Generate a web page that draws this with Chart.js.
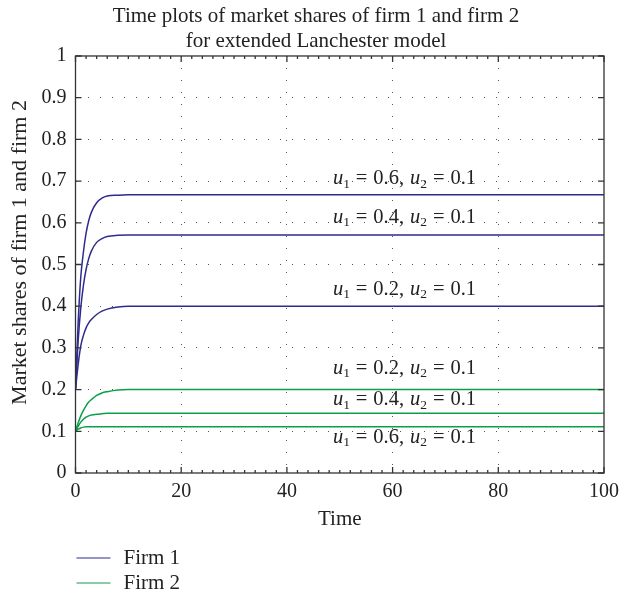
<!DOCTYPE html>
<html>
<head>
<meta charset="utf-8">
<script src="https://cdn.jsdelivr.net/npm/chart.js@4"></script>
<style>
  html, body { margin: 0; padding: 0; background: #fff; overflow: hidden; }
  #wrap { width: 632px; height: 598px; }
</style>
</head>
<body>
<div id="wrap"><canvas id="myChart"></canvas></div>
<script>
// time axis samples
const timePoints = [0, 0.5, 1, 1.5, 2, 2.5, 3, 4, 5, 6, 8, 10, 20, 40, 60, 80, 100];

// firm 1 market share for u1 = 0.6, 0.4, 0.2 (u2 = 0.1)
const firm1U06 = [0.2, 0.36, 0.47, 0.53, 0.575, 0.605, 0.625, 0.648, 0.659, 0.664, 0.666, 0.667, 0.667, 0.667, 0.667, 0.667, 0.667];
const firm1U04 = [0.2, 0.316, 0.396, 0.45, 0.488, 0.514, 0.532, 0.553, 0.562, 0.567, 0.57, 0.571, 0.571, 0.571, 0.571, 0.571, 0.571];
const firm1U02 = [0.2, 0.26, 0.305, 0.33, 0.348, 0.36, 0.368, 0.38, 0.388, 0.393, 0.398, 0.4, 0.4, 0.4, 0.4, 0.4, 0.4];

// firm 2 market share for u1 = 0.2, 0.4, 0.6 (u2 = 0.1)
const firm2U02 = [0.1, 0.12, 0.137, 0.15, 0.161, 0.17, 0.176, 0.186, 0.192, 0.195, 0.199, 0.2, 0.2, 0.2, 0.2, 0.2, 0.2];
const firm2U04 = [0.1, 0.112, 0.122, 0.129, 0.134, 0.137, 0.139, 0.141, 0.142, 0.143, 0.143, 0.143, 0.143, 0.143, 0.143, 0.143, 0.143];
const firm2U06 = [0.1, 0.105, 0.108, 0.11, 0.111, 0.111, 0.111, 0.111, 0.111, 0.111, 0.111, 0.111, 0.111, 0.111, 0.111, 0.111, 0.111];

// curve annotations
const labelU1 = [0.6, 0.4, 0.2, 0.2, 0.4, 0.6];
const labelU2 = [0.1, 0.1, 0.1, 0.1, 0.1, 0.1];
const labelY = [0.705, 0.612, 0.439, 0.25, 0.175, 0.086];
const labelT = 48.7;

const legendNames = ['Firm 1', 'Firm 2'];
const firmColors = ['#2f2b8e', '#0c9f47'];
const yTitle = 'Market shares of firm 1 and firm 2';

const FONT = '"Liberation Serif", "Times New Roman", serif';

function series(values, firm) {
    return {
        label: legendNames[firm],
        data: timePoints.map((t, i) => ({ x: t, y: values[i] })),
        borderColor: firmColors[firm],
        borderWidth: 1.5,
        pointRadius: 0,
        cubicInterpolationMode: 'monotone',
        fill: false
    };
}

const decorPlugin = {
    id: 'decor',
    afterDatasetsDraw(chart) {
        const { ctx, chartArea: a, scales: { x, y } } = chart;
        ctx.save();
        // frame + inward ticks
        ctx.strokeStyle = '#333';
        ctx.lineWidth = 1.3;
        ctx.strokeRect(a.left, a.top, a.right - a.left, a.bottom - a.top);
        ctx.beginPath();
        for (let t = 0; t <= 100; t += 2) {
            const px = x.getPixelForValue(t);
            const len = t % 20 === 0 ? 6 : 3;
            ctx.moveTo(px, a.bottom); ctx.lineTo(px, a.bottom - len);
            ctx.moveTo(px, a.top); ctx.lineTo(px, a.top + len);
        }
        for (let i = 0; i <= 10; i++) {
            const py = y.getPixelForValue(i / 10);
            ctx.moveTo(a.left, py); ctx.lineTo(a.left + 6, py);
            ctx.moveTo(a.right, py); ctx.lineTo(a.right - 6, py);
        }
        ctx.stroke();

        ctx.fillStyle = '#222';
        ctx.textBaseline = 'middle';

        // y axis title (placed slightly above the axis centre, as in the original)
        ctx.save();
        ctx.translate(20, (a.top + a.bottom) / 2 - 12);
        ctx.rotate(-Math.PI / 2);
        ctx.textAlign = 'center';
        ctx.font = '22px ' + FONT;
        ctx.fillText(yTitle, 0, 0);
        ctx.restore();

        // annotations "u1 = .., u2 = .."
        ctx.textAlign = 'left';
        const gap = 0.8;
        labelU1.forEach((u1, i) => {
            let px = x.getPixelForValue(labelT);
            const py = y.getPixelForValue(labelY[i]);
            const parts = [
                ['u', 'italic 20.5px ' + FONT, 0, 0],
                ['1', '13.5px ' + FONT, 5, gap],
                ['=', '20.5px ' + FONT, 0, gap],
                [u1.toFixed(1) + ',', '20.5px ' + FONT, 0, gap],
                ['u', 'italic 20.5px ' + FONT, 0, 0],
                ['2', '13.5px ' + FONT, 5, gap],
                ['=', '20.5px ' + FONT, 0, gap],
                [labelU2[i].toFixed(1), '20.5px ' + FONT, 0, 0]
            ];
            parts.forEach(([txt, font, dy, after], k) => {
                ctx.font = font;
                ctx.fillText(txt, px, py + dy);
                px += ctx.measureText(txt).width + after;
                if (k === 1 || k === 2 || k === 3 || k === 5 || k === 6) {
                    ctx.font = '20.5px ' + FONT;
                    px += ctx.measureText(' ').width;
                }
            });
        });

        // legend below the plot
        ctx.font = '21px ' + FONT;
        legendNames.forEach((name, i) => {
            const ly = 558 + i * 25;
            ctx.strokeStyle = firmColors[i];
            ctx.lineWidth = 1.2;
            ctx.beginPath();
            ctx.moveTo(a.left + 1, ly);
            ctx.lineTo(a.left + 35, ly);
            ctx.stroke();
            ctx.fillText(name, a.left + 48, ly);
        });
        ctx.restore();
    }
};

const gridColor = (c) => (c.tick && (c.tick.value === 0 || c.tick.value === c.scale.max)) ? 'rgba(0,0,0,0)' : '#555';

const ctx = document.getElementById('myChart').getContext('2d');
const myChart = new Chart(ctx, {
    type: 'line',
    data: {
        datasets: [
            series(firm1U06, 0), series(firm1U04, 0), series(firm1U02, 0),
            series(firm2U02, 1), series(firm2U04, 1), series(firm2U06, 1)
        ]
    },
    options: {
        responsive: true,
        maintainAspectRatio: false,
        animation: false,
        layout: { padding: { left: 28, right: 28, top: 0, bottom: 60 } },
        plugins: {
            legend: { display: false },
            tooltip: { enabled: false },
            title: {
                display: true,
                text: ['Time plots of market shares of firm 1 and firm 2', 'for extended Lanchester model'],
                color: '#222',
                font: { family: FONT, size: 21, weight: 'normal', lineHeight: 1.19 },
                padding: { top: 4, bottom: 2 }
            }
        },
        scales: {
            x: {
                type: 'linear',
                min: 0,
                max: 100,
                afterFit: (s) => { s.height = 65; },
                ticks: { stepSize: 20, color: '#222', padding: 7, font: { family: FONT, size: 20 } },
                grid: { color: gridColor, drawTicks: false, lineWidth: 1 },
                border: { display: false, dash: [1, 11] },
                title: {
                    display: true,
                    text: 'Time',
                    color: '#222',
                    font: { family: FONT, size: 21 },
                    padding: { bottom: 6 }
                }
            },
            y: {
                min: 0,
                max: 1,
                afterFit: (s) => { s.width = 47.5; },
                ticks: {
                    stepSize: 0.1,
                    color: '#222',
                    padding: 9,
                    font: { family: FONT, size: 20 },
                    callback: (v) => String(Number(v.toFixed(1)))
                },
                grid: { color: gridColor, drawTicks: false, lineWidth: 1 },
                border: { display: false, dash: [1, 11] }
            }
        }
    },
    plugins: [decorPlugin]
});
</script>
</body>
</html>
